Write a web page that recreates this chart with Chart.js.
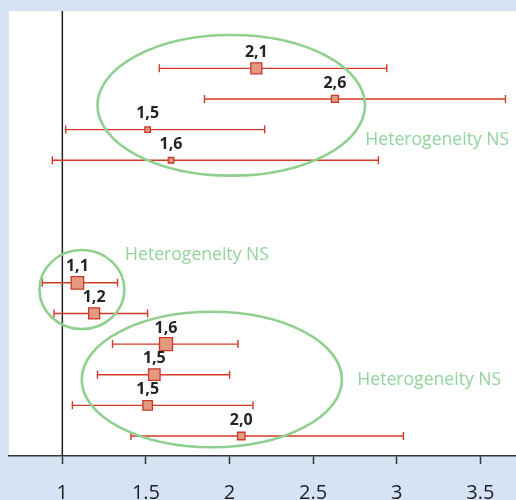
<!DOCTYPE html>
<html>
<head>
<meta charset="utf-8">
<title>Forest plot</title>
<script src="https://cdn.jsdelivr.net/npm/chart.js@4.4.1/dist/chart.umd.min.js"></script>
<style>
  html, body { margin: 0; padding: 0; background: #d5e3f5; }
  canvas { display: block; }
</style>
</head>
<body>
<canvas id="chart" width="516" height="500"></canvas>
<script>
// row slots, top to bottom (empty slots 5-7 separate the two groups)
const rowIndex = [1, 2, 3, 4, 8, 9, 10, 11, 12, 13];

const estimate = [2.16, 2.63, 1.51, 1.65, 1.09, 1.19, 1.62, 1.55, 1.51, 2.07];
const lower    = [1.58, 1.85, 1.02, 0.94, 0.88, 0.95, 1.30, 1.21, 1.06, 1.41];
const upper    = [2.94, 3.65, 2.21, 2.89, 1.33, 1.51, 2.05, 2.00, 2.14, 3.04];

const valueLabels = ["2,1", "2,6", "1,5", "1,6", "1,1", "1,2", "1,6", "1,5", "1,5", "2,0"];

// marker side in px (study weight)
const markerSide = [11, 7, 5.5, 5.5, 12.5, 11, 13, 11.5, 9.5, 7.5];

const xTicks = [1, 1.5, 2, 2.5, 3, 3.5];
const xTickLabels = ["1", "1.5", "2", "2.5", "3", "3.5"];

// outlines around groups, in data units
const groups = [
    { cx: 2.010, cy: 2.208, rx: 0.800, ry: 2.294, textX: 2.812, textY: 3.503 },
    { cx: 1.117, cy: 8.219, rx: 0.254, ry: 1.289, textX: 1.375, textY: 7.256 },
    { cx: 1.894, cy: 11.157, rx: 0.778, ry: 2.210, textX: 2.764, textY: 11.333 }
];
const groupLabel = "Heterogeneity NS";

const RED = "#d23a26";
const GREEN = "#8fcf8f";
const GREEN_TEXT = "#93d49b";

const forestPlugin = {
    id: "forest",

    beforeDraw(chart) {
        const { ctx, chartArea: a } = chart;
        ctx.save();
        ctx.fillStyle = "#ffffff";
        ctx.fillRect(a.left, a.top, a.right - a.left, a.bottom - a.top);
        ctx.restore();
    },

    beforeDatasetsDraw(chart) {
        const { ctx, chartArea: a, scales: { x, y } } = chart;
        ctx.save();

        // line of no effect
        const x1 = x.getPixelForValue(1);
        ctx.strokeStyle = "#222222";
        ctx.lineWidth = 1.5;
        ctx.beginPath();
        ctx.moveTo(x1, a.top);
        ctx.lineTo(x1, a.bottom);
        ctx.stroke();

        // confidence intervals
        ctx.strokeStyle = RED;
        ctx.lineWidth = 1.4;
        rowIndex.forEach((r, i) => {
            const py = y.getPixelForValue(r);
            const pl = x.getPixelForValue(lower[i]);
            const pu = x.getPixelForValue(upper[i]);
            ctx.beginPath();
            ctx.moveTo(pl, py);
            ctx.lineTo(pu, py);
            ctx.moveTo(pl, py - 4);
            ctx.lineTo(pl, py + 4);
            ctx.moveTo(pu, py - 4);
            ctx.lineTo(pu, py + 4);
            ctx.stroke();
        });

        ctx.restore();
    },

    afterDatasetsDraw(chart) {
        const { ctx, scales: { x, y } } = chart;
        ctx.save();

        // value labels above markers
        ctx.fillStyle = "#222222";
        ctx.font = "bold 16px 'Open Sans'";
        ctx.textAlign = "center";
        ctx.textBaseline = "alphabetic";
        rowIndex.forEach((r, i) => {
            ctx.fillText(valueLabels[i], x.getPixelForValue(estimate[i]), y.getPixelForValue(r) - 11.3);
        });

        // group outlines + heterogeneity notes
        ctx.strokeStyle = GREEN;
        ctx.lineWidth = 2.6;
        ctx.fillStyle = GREEN_TEXT;
        ctx.font = "17.6px 'Open Sans'";
        ctx.textAlign = "left";
        groups.forEach(g => {
            const cx = x.getPixelForValue(g.cx);
            const cy = y.getPixelForValue(g.cy);
            const rx = Math.abs(x.getPixelForValue(g.cx + g.rx) - cx);
            const ry = Math.abs(y.getPixelForValue(g.cy + g.ry) - cy);
            ctx.beginPath();
            ctx.ellipse(cx, cy, rx, ry, 0, 0, Math.PI * 2);
            ctx.stroke();
            ctx.fillText(groupLabel, x.getPixelForValue(g.textX), y.getPixelForValue(g.textY));
        });

        ctx.restore();
    }
};

new Chart(document.getElementById("chart"), {
    type: "scatter",
    data: {
        datasets: [
            {
                data: rowIndex.map((r, i) => ({ x: estimate[i], y: r })),
                pointStyle: "rect",
                pointRadius: markerSide.map(s => s / Math.SQRT2),
                pointHoverRadius: markerSide.map(s => s / Math.SQRT2),
                backgroundColor: "#e49a80",
                borderColor: "#c8392a",
                borderWidth: 1.3
            }
        ]
    },
    options: {
        responsive: false,
        animation: false,
        events: [],
        layout: {
            autoPadding: false,
            padding: { left: 9, top: 11, right: 0, bottom: 0 }
        },
        plugins: {
            legend: { display: false },
            tooltip: { enabled: false }
        },
        scales: {
            x: {
                type: "linear",
                position: "bottom",
                min: 0.681,
                max: 3.713,
                afterBuildTicks(scale) {
                    scale.ticks = xTicks.map(v => ({ value: v }));
                },
                afterFit(scale) {
                    scale.height = 44;
                },
                grid: {
                    drawOnChartArea: false,
                    drawTicks: true,
                    tickLength: 8,
                    tickColor: "#333333",
                    tickWidth: 1.5
                },
                border: {
                    display: true,
                    color: "#333333",
                    width: 1.5
                },
                ticks: {
                    padding: 17,
                    color: "#222222",
                    font: { family: "'Open Sans'", size: 20 },
                    maxRotation: 0,
                    callback(value) {
                        const i = xTicks.indexOf(value);
                        return i >= 0 ? xTickLabels[i] : "";
                    }
                }
            },
            y: {
                type: "linear",
                display: false,
                reverse: true,
                min: -0.871,
                max: 13.653
            }
        }
    },
    plugins: [forestPlugin]
});
</script>
</body>
</html>
